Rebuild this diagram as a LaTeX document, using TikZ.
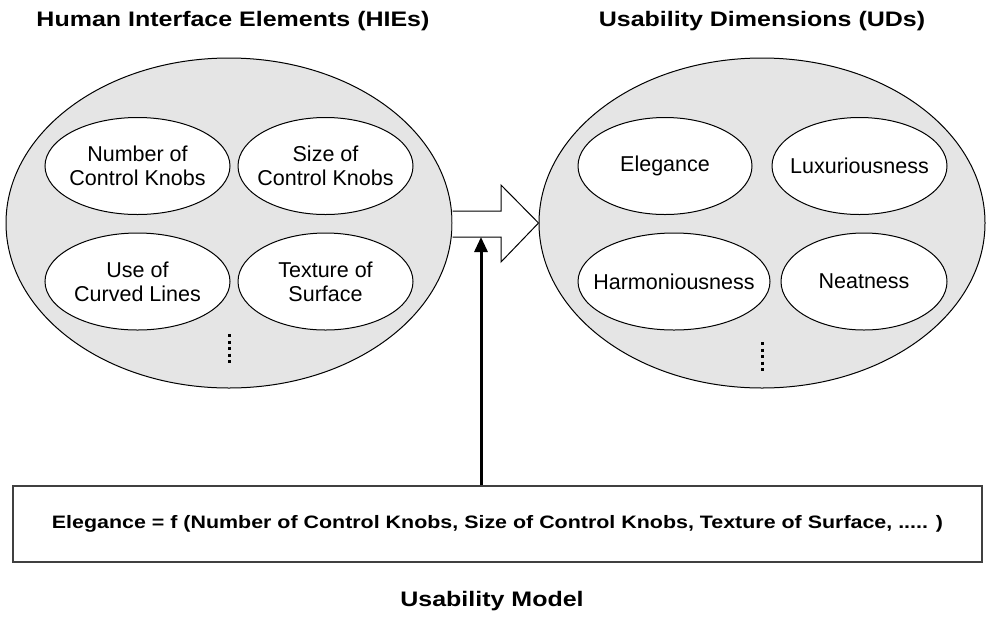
\documentclass[tikz,border=0pt]{standalone}
\usepackage{fontspec}
\setmainfont{Liberation Sans}
\newfontfamily\widefont[FakeStretch=1.19]{Liberation Sans}
\usetikzlibrary{shapes.geometric,arrows.meta,calc}

\begin{document}
\begin{tikzpicture}[x=1pt,y=-1pt,
	group/.style={ellipse, draw, line width=1pt, fill=black!10, inner sep=0pt,
		minimum width=446pt, minimum height=330pt},
	item/.style={ellipse, draw, line width=1pt, fill=white, inner ysep=0pt, inner xsep=-14pt,
		minimum height=97pt, align=center, font=\fontsize{21.5}{24}\selectfont},
	heading/.style={font=\widefont\fontsize{21}{25}\selectfont\bfseries}]
	\useasboundingbox (0,0) rectangle (992,633);
	% the two groups
	\node[heading] (hietitle) at (233,21) {Human Interface Elements (HIEs)};
	\node[heading] (udtitle) at (762,21) {Usability Dimensions (UDs)};
	\node[group] (hie) at (229,223) {};
	\node[group] (ud) at (762,223) {};
	% HIEs
	\node[item, minimum width=185pt] (num) at (137.5,166) {Number of\\Control Knobs};
	\node[item, minimum width=175pt] (size) at (325.5,166) {Size of\\Control Knobs};
	\node[item, minimum width=185pt] (curve) at (137.5,281.5) {Use of\\Curved Lines};
	\node[item, minimum width=175pt] (tex) at (325.5,281.5) {Texture of\\Surface};
	% UDs
	\node[item, minimum width=174pt] (eleg) at (665,166) {Elegance};
	\node[item, minimum width=175pt] (lux) at (859.5,166) {Luxuriousness};
	\node[item, minimum width=192pt] (harm) at (674,281.5) {Harmoniousness};
	\node[item, minimum width=166pt] (neat) at (864,281.5) {Neatness};
	% more of them
	\draw[line width=3pt, dash pattern=on 3pt off 3.5pt] (229,334) -- (229,364);
	\draw[line width=3pt, dash pattern=on 3pt off 3.5pt] (762,342) -- (762,372);
	% block arrow
	\filldraw[fill=white, line width=1pt] ($(hie.east)+(0,-12)$) -- (501,211) -- (501,185)
		-- (ud.west) -- (501,262) -- (501,237) -- ($(hie.east)+(0,14)$);
	% the model
	\node[draw=black!75, line width=1.5pt, minimum width=969pt, minimum height=76pt,
		font=\widefont\fontsize{18}{21}\selectfont\bfseries] (model) at (497.5,524)
		{Elegance = f (Number of Control Knobs, Size of Control Knobs, Texture of Surface, ..... )};
	\coordinate (join) at (481,237);
	\draw[line width=3pt, -{Triangle[length=15pt,width=13pt]}] (model.north -| join) -- (join);
	\node[heading] (label) at (492,601) {Usability Model};
\end{tikzpicture}
\end{document}
